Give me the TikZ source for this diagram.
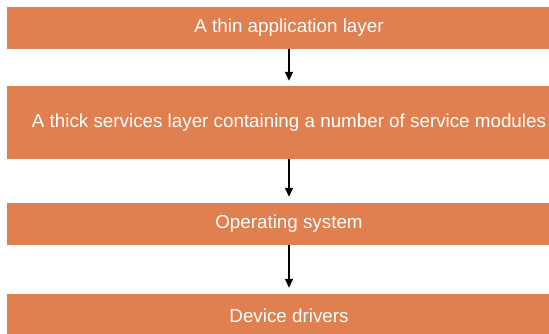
\documentclass[tikz,border=0pt]{standalone}
\usepackage{fontspec}
\setmainfont{Liberation Sans}
\usetikzlibrary{arrows.meta}
\definecolor{layer}{RGB}{224,127,80}
\tikzset{
  layerbox/.style={fill=layer, text=white, inner sep=0pt, minimum width=564pt,
    font=\fontsize{18.8}{21}\selectfont},
  arr/.style={line width=1.3pt, -{Triangle[length=9pt,width=8pt]}}
}
\begin{document}
\begin{tikzpicture}[x=1pt,y=-1pt]
\useasboundingbox (0,0) rectangle (549,334);
\clip (0,0) rectangle (549,334);
\node[layerbox, minimum height=42pt] (b1) at (289,28) {A thin application layer};
\node[layerbox, minimum height=73pt] (b2) at (289,122.5) {A thick services layer containing a number of service modules};
\node[layerbox, minimum height=42pt] (b3) at (289,224) {Operating system};
\node[layerbox, minimum height=44pt] (b4) at (289,316) {Device drivers};
\draw[arr] (b1.south) -- ([yshift=5pt]b2.north);
\draw[arr] (b2.south) -- ([yshift=6pt]b3.north);
\draw[arr] (b3.south) -- ([yshift=6pt]b4.north);
\end{tikzpicture}
\end{document}
